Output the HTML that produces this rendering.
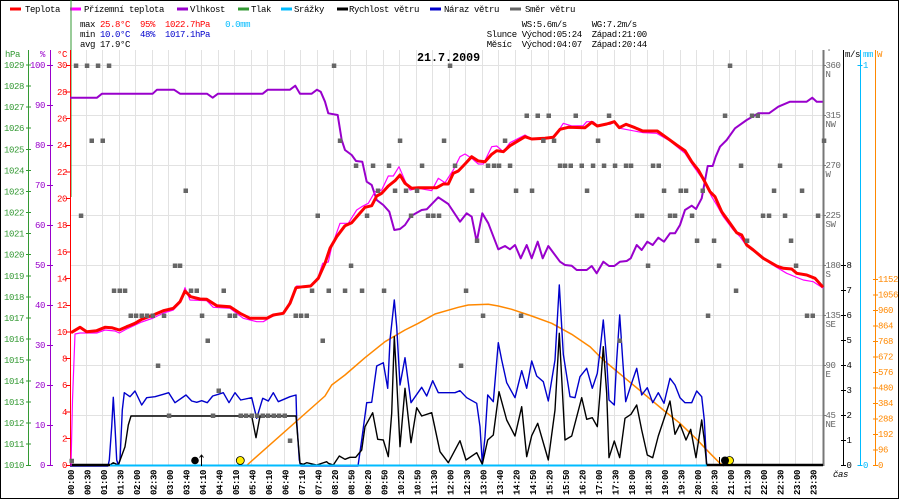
<!DOCTYPE html>
<html><head><meta charset="utf-8"><style>
html,body{margin:0;padding:0;background:#fff;}
svg{display:block;}
text{font-family:"Liberation Mono",monospace;font-size:9px;letter-spacing:-0.4px;}
.xl text{font-weight:bold;}
</style></head><body>
<svg width="900" height="500" viewBox="0 0 900 500" xmlns="http://www.w3.org/2000/svg">
<rect x="0" y="0" width="900" height="500" fill="#fff"/>
<rect x="0.5" y="0.5" width="898" height="498" fill="none" stroke="#000" stroke-width="1"/>

<!-- legend -->
<g stroke-width="3">
<line x1="10" y1="9" x2="21" y2="9" stroke="#ff0000"/>
<line x1="70" y1="9" x2="81" y2="9" stroke="#ff00ff"/>
<line x1="177" y1="9" x2="188" y2="9" stroke="#9900cc"/>
<line x1="238" y1="9" x2="249" y2="9" stroke="#339933"/>
<line x1="281" y1="9" x2="292" y2="9" stroke="#00bbff"/>
<line x1="337" y1="9" x2="348" y2="9" stroke="#000"/>
<line x1="430" y1="9" x2="441" y2="9" stroke="#0000cc"/>
<line x1="510" y1="9" x2="521" y2="9" stroke="#666"/>
</g>
<g fill="#000">
<text x="25" y="12">Teplota</text>
<text x="84" y="12">Přízemní teplota</text>
<text x="190" y="12">Vlhkost</text>
<text x="251" y="12">Tlak</text>
<text x="294" y="12">Srážky</text>
<text x="349" y="12">Rychlost větru</text>
<text x="444" y="12">Náraz větru</text>
<text x="525" y="12">Směr větru</text>
</g>

<!-- stats -->
<text x="80" y="27" xml:space="preserve">max <tspan fill="#ff0000">25.8°C  95%  1022.7hPa</tspan>   <tspan fill="#00bbff">0.0mm</tspan></text>
<text x="80" y="37" xml:space="preserve">min <tspan fill="#0000cc">10.0°C  48%  1017.1hPa</tspan></text>
<text x="80" y="47" xml:space="preserve">avg 17.9°C</text>
<text x="486.7" y="27" xml:space="preserve">       WS:5.6m/s     WG:7.2m/s</text>
<text x="486.7" y="37" xml:space="preserve">Slunce Východ:05:24  Západ:21:00</text>
<text x="486.7" y="47" xml:space="preserve">Měsíc  Východ:04:07  Západ:20:44</text>

<!-- grid -->
<g stroke="#e2e2e2" stroke-width="1">
<path d="M86.5 50V466M102.5 50V466M119.5 50V466M135.5 50V466M152.5 50V466M168.5 50V466M185.5 50V466M201.5 50V466M218.5 50V466M234.5 50V466M251.5 50V466M267.5 50V466M284.5 50V466M300.5 50V466M317.5 50V466M333.5 50V466M350.5 50V466M366.5 50V466M383.5 50V466M399.5 50V466M416.5 50V466M432.5 50V466M449.5 50V466M465.5 50V466M482.5 50V466M498.5 50V466M515.5 50V466M531.5 50V466M548.5 50V466M564.5 50V466M581.5 50V466M597.5 50V466M614.5 50V466M630.5 50V466M647.5 50V466M663.5 50V466M680.5 50V466M696.5 50V466M713.5 50V466M729.5 50V466M746.5 50V466M762.5 50V466M779.5 50V466M795.5 50V466M812.5 50V466"/>
<path d="M71 65.5H823M71 115.5H823M71 165.5H823M71 215.5H823M71 265.5H823M71 315.5H823M71 365.5H823M71 415.5H823"/>
</g>

<!-- title -->
<text x="417" y="61" style="font-size:11.7px;font-weight:bold;letter-spacing:0">21.7.2009</text>

<!-- left axes -->
<text x="5" y="57" fill="#339933">hPa</text>
<text x="40" y="57" fill="#9900cc">%</text>
<text x="57" y="57" fill="#ff0000">°C</text>
<line x1="28.5" y1="50" x2="28.5" y2="466" stroke="#339933"/>
<line x1="50.5" y1="50" x2="50.5" y2="466" stroke="#9900cc"/>
<line x1="71" y1="0" x2="71" y2="197" stroke="#339933"/>
<line x1="70.5" y1="50" x2="70.5" y2="466" stroke="#ff0000"/>
<g stroke="#339933"><path d="M26 465.5h5M26 444h5M26 423h5M26 402h5M26 381h5M26 360h5M26 339h5M26 318h5M26 297h5M26 276h5M26 254.5h5M26 233.5h5M26 212.5h5M26 191.5h5M26 170.5h5M26 149.5h5M26 128h5M26 107h5M26 86h5M26 65h5"/></g>
<g fill="#339933" text-anchor="end">
<text x="24" y="468">1010</text><text x="24" y="447">1011</text><text x="24" y="426">1012</text><text x="24" y="405">1013</text><text x="24" y="384">1014</text><text x="24" y="363">1015</text><text x="24" y="342">1016</text><text x="24" y="321">1017</text><text x="24" y="300">1018</text><text x="24" y="279">1019</text><text x="24" y="257.5">1020</text><text x="24" y="236.5">1021</text><text x="24" y="215.5">1022</text><text x="24" y="194.5">1023</text><text x="24" y="173.5">1024</text><text x="24" y="152.5">1025</text><text x="24" y="131">1026</text><text x="24" y="110">1027</text><text x="24" y="89">1028</text><text x="24" y="68">1029</text>
</g>
<g stroke="#9900cc"><path d="M47 465.5h6M47 425.5h6M47 385.5h6M47 345.5h6M47 305.5h6M47 265.5h6M47 225.5h6M47 185.5h6M47 145.5h6M47 105.5h6M47 65.5h6"/></g>
<g fill="#9900cc" text-anchor="end">
<text x="45" y="468">0</text><text x="45" y="428">10</text><text x="45" y="388">20</text><text x="45" y="348">30</text><text x="45" y="308">40</text><text x="45" y="268">50</text><text x="45" y="228">60</text><text x="45" y="188">70</text><text x="45" y="148">80</text><text x="45" y="108">90</text><text x="45" y="68">100</text>
</g>
<g stroke="#ff0000"><path d="M66 465.5h4M66 438.5h4M66 412h4M66 385.5h4M66 358.5h4M66 332h4M66 305.5h4M66 278.5h4M66 252h4M66 225.5h4M66 198.5h4M66 172h4M66 145.5h4M66 118.5h4M66 92h4M66 65.5h4"/></g>
<g fill="#ff0000" text-anchor="end">
<text x="67" y="468">0</text><text x="67" y="441.5">2</text><text x="67" y="415">4</text><text x="67" y="388">6</text><text x="67" y="361.5">8</text><text x="67" y="335">10</text><text x="67" y="308">12</text><text x="67" y="281.5">14</text><text x="67" y="255">16</text><text x="67" y="228">18</text><text x="67" y="201.5">20</text><text x="67" y="175">22</text><text x="67" y="148">24</text><text x="67" y="121.5">26</text><text x="67" y="95">28</text><text x="67" y="68">30</text>
</g>

<!-- right axes -->
<line x1="823.5" y1="50" x2="823.5" y2="466" stroke="#777" stroke-width="2"/>
<line x1="843.5" y1="50" x2="843.5" y2="466" stroke="#000"/>
<line x1="860.5" y1="50" x2="860.5" y2="466" stroke="#00bbff"/>
<line x1="875.5" y1="50" x2="875.5" y2="466" stroke="#ff8800"/>
<text x="827" y="54" fill="#666" style="font-size:7px">°</text>
<text x="845" y="57">m/s</text>
<text x="863" y="57" fill="#00bbff">mm</text>
<text x="877" y="57" fill="#ff8800">W</text>
<g stroke="#777"><path d="M823 65.5h3M823 115.5h3M823 165.5h3M823 215.5h3M823 265.5h3M823 315.5h3M823 365.5h3M823 415.5h3"/></g>
<g fill="#666">
<text x="825.5" y="68">360</text><text x="825.5" y="77">N</text>
<text x="825.5" y="118">315</text><text x="825.5" y="127">NW</text>
<text x="825.5" y="168">270</text><text x="825.5" y="177">W</text>
<text x="825.5" y="218">225</text><text x="825.5" y="227">SW</text>
<text x="825.5" y="268">180</text><text x="825.5" y="277">S</text>
<text x="825.5" y="318">135</text><text x="825.5" y="327">SE</text>
<text x="825.5" y="368">90</text><text x="825.5" y="377">E</text>
<text x="825.5" y="418">45</text><text x="825.5" y="427">NE</text>
</g>
<g stroke="#000"><path d="M841 465.5h5M841 440.5h5M841 415.5h5M841 390.5h5M841 365.5h5M841 340.5h5M841 315.5h5M841 290.5h5M841 265.5h5"/></g>
<g fill="#000">
<text x="846.5" y="468">0</text><text x="846.5" y="443">1</text><text x="846.5" y="418">2</text><text x="846.5" y="393">3</text><text x="846.5" y="368">4</text><text x="846.5" y="343">5</text><text x="846.5" y="318">6</text><text x="846.5" y="293">7</text><text x="846.5" y="268">8</text>
</g>
<g stroke="#00bbff"><path d="M857.5 465.5h5M857.5 65.5h5"/></g>
<g fill="#00bbff"><text x="863" y="468">0</text><text x="863" y="68">1</text></g>
<g stroke="#ff8800"><path d="M873 465.5h5M873 450h5M873 434.5h5M873 419h5M873 403.5h5M873 388h5M873 372.5h5M873 357h5M873 341.5h5M873 326h5M873 310.5h5M873 295h5M873 279.5h5"/></g>
<g fill="#ff8800">
<text x="878" y="468">0</text><text x="878" y="452.5">96</text><text x="878" y="437">192</text><text x="878" y="421.5">288</text><text x="878" y="406">384</text><text x="878" y="390.5">480</text><text x="878" y="375">576</text><text x="878" y="359.5">672</text><text x="878" y="344">768</text><text x="878" y="328.5">864</text><text x="878" y="313">960</text><text x="878" y="297.5">1056</text><text x="878" y="282">1152</text>
</g>
<text x="833" y="477" style="font-style:italic">čas</text>

<!-- x labels -->
<g class="xl" fill="#000">
<text transform="translate(74.1,495) rotate(-90)">00:00</text>
<text transform="translate(90.6,495) rotate(-90)">00:30</text>
<text transform="translate(107.1,495) rotate(-90)">01:00</text>
<text transform="translate(123.6,495) rotate(-90)">01:30</text>
<text transform="translate(140.1,495) rotate(-90)">02:00</text>
<text transform="translate(156.6,495) rotate(-90)">02:30</text>
<text transform="translate(173.1,495) rotate(-90)">03:00</text>
<text transform="translate(189.6,495) rotate(-90)">03:40</text>
<text transform="translate(206.1,495) rotate(-90)">04:10</text>
<text transform="translate(222.6,495) rotate(-90)">04:40</text>
<text transform="translate(239.1,495) rotate(-90)">05:10</text>
<text transform="translate(255.6,495) rotate(-90)">05:40</text>
<text transform="translate(272.1,495) rotate(-90)">06:10</text>
<text transform="translate(288.6,495) rotate(-90)">06:40</text>
<text transform="translate(305.1,495) rotate(-90)">07:10</text>
<text transform="translate(321.6,495) rotate(-90)">07:40</text>
<text transform="translate(338.1,495) rotate(-90)">08:20</text>
<text transform="translate(354.6,495) rotate(-90)">08:50</text>
<text transform="translate(371.1,495) rotate(-90)">09:20</text>
<text transform="translate(387.6,495) rotate(-90)">09:50</text>
<text transform="translate(404.1,495) rotate(-90)">10:20</text>
<text transform="translate(420.6,495) rotate(-90)">10:50</text>
<text transform="translate(437.1,495) rotate(-90)">11:30</text>
<text transform="translate(453.6,495) rotate(-90)">12:00</text>
<text transform="translate(470.1,495) rotate(-90)">12:30</text>
<text transform="translate(486.6,495) rotate(-90)">13:00</text>
<text transform="translate(503.1,495) rotate(-90)">13:40</text>
<text transform="translate(519.6,495) rotate(-90)">14:20</text>
<text transform="translate(536.1,495) rotate(-90)">14:50</text>
<text transform="translate(552.6,495) rotate(-90)">15:20</text>
<text transform="translate(569.1,495) rotate(-90)">15:50</text>
<text transform="translate(585.6,495) rotate(-90)">16:20</text>
<text transform="translate(602.1,495) rotate(-90)">17:00</text>
<text transform="translate(618.6,495) rotate(-90)">17:30</text>
<text transform="translate(635.1,495) rotate(-90)">18:00</text>
<text transform="translate(651.6,495) rotate(-90)">18:30</text>
<text transform="translate(668.1,495) rotate(-90)">19:00</text>
<text transform="translate(684.6,495) rotate(-90)">19:30</text>
<text transform="translate(701.1,495) rotate(-90)">20:00</text>
<text transform="translate(717.6,495) rotate(-90)">20:30</text>
<text transform="translate(734.1,495) rotate(-90)">21:00</text>
<text transform="translate(750.6,495) rotate(-90)">21:30</text>
<text transform="translate(767.1,495) rotate(-90)">22:00</text>
<text transform="translate(783.6,495) rotate(-90)">22:30</text>
<text transform="translate(800.1,495) rotate(-90)">23:00</text>
<text transform="translate(816.6,495) rotate(-90)">23:30</text>
</g>

<!-- series -->
<g fill="none" stroke-linejoin="round">
<polyline stroke="#ff8800" stroke-width="1.5" points="246,466 325,396 331.7,385 345,375 365,357.7 385,341.7 405,330 418.3,323.3 435,314 458.3,307.3 468.3,305 488.3,304.3 498.3,306 511.7,309.3 531.7,316 551.7,323.3 571.7,334.3 590,346.7 603.3,360 623.3,376.7 643.3,393.3 663.3,410 680,423.3 696.7,439.3 710,453.3 720,463.3 724,466"/>
<polyline stroke="#9900cc" stroke-width="2" points="70,97.7 97,97.7 102,93.7 152.7,93.7 157,89.7 174,89.7 180,93.7 207,93.7 212.7,97.7 218,93.7 262.7,93.7 267.7,89.7 290,89.7 295.3,85.7 300,93.7 311.7,93.7 317,89.7 320.7,91.7 325,101.7 328.3,113.3 337.7,115 341.7,140 345,150 351.7,155 356,161 362.3,161.7 366.7,181.7 371.7,185 376.7,200 383.3,205 389.3,211.7 394.3,230 400,229 405,225 411,216 421.7,210 426.7,209.3 438.3,197.3 448.3,204 460,221.7 466.7,213.3 471.7,216.7 476.7,241.7 482.3,213.3 488.3,223.3 498.3,249.3 505,246 510,249.3 515,245 520.7,258.3 526.7,245 531.7,258.3 537.7,241.7 542.7,258.3 548.3,246 560,261.7 565,265 571.7,265.7 576.7,270 586.7,270 591.7,266 596.7,273.3 603.3,261.7 609,266 614.3,266 620,261.7 626.7,261 630.7,258.3 636.7,245 641.7,250 647.3,241.7 652.7,245 658.3,237.7 664,241.7 670,233.3 675,233.3 680,225 685,210 691.7,205.7 696,209 701.7,198.3 707.7,166 712.7,166 715.7,156.7 720,146.7 726.7,140 735,128.3 746.7,120 758.3,113.3 769,113.3 778.3,106.7 790,101.7 806.7,101.7 812.3,97.7 816.7,101.7 822.7,101.7"/>
<polyline stroke="#0000cc" stroke-width="1.4" points="70,466 108,466 109.3,460 111.7,426.7 113.3,397.3 115,426.7 116.7,460 118.3,465 120,460 122.3,410 124.3,392.7 130,396.7 135,391 141.7,405 146.7,397.7 155,396.7 163.3,394.3 168.7,392.7 175,402.7 186,395 191.7,401 196.7,402.3 201.7,400.7 207.3,402.7 212.7,396 218.3,394.3 223.3,392.7 229,402.7 235,392.7 240.7,400 251.7,397.7 256.7,418.3 262.7,398.3 268.3,401 273.3,392.7 278.3,401.7 290,396.7 296,395 296.7,420 299.3,460 300.7,466 358,466 361.7,440 366.7,402.7 371.7,402.3 376.7,366 383.3,362.7 387.7,388.3 390,340 394.3,300 396.7,326.7 400,385 405,357.7 411,402.7 421.7,387.3 426.7,396 432.7,380.7 438.3,392.7 455,392.7 460,390.7 466.7,397.7 476.7,403.3 480,426.7 482.3,463.3 485,436.7 487.7,395 493.3,401.7 498.3,342.7 501.7,360 506.7,382.7 515,397.7 521.7,370.7 526.7,388.3 531.7,361 536.7,376 543.3,381.7 548.3,401 555,360 559.3,285 563.3,354.3 570,396.7 575,397.7 580,376.7 586.7,368.3 592.3,388.3 597.3,373.3 600,351 603.3,320 606.7,360 609,400 614.3,405 616.7,360 619.7,315 622.7,360 625.7,401.7 631,385 636.7,368.3 641.7,395 647.3,387.7 652.7,402.7 658.3,392.7 664,403.3 670,378.3 675,385 680,397.7 685,402.7 691.7,402.7 696.7,391 701.7,396.7 704.3,420 706.7,466"/>
<polyline stroke="#000" stroke-width="1.4" points="70,465 110,465 113.3,462.7 118.3,465 125,446.7 128.3,425 131,416 251.7,416 256,437.7 260,416 296,416 297.7,436.7 300,463.3 303.3,464.3 306.7,462.7 316.7,465 326.7,461.7 328.3,463.3 333.3,465 339.3,456 345,459.3 350,457.3 355.7,457.3 361.7,450 365,426.7 372.7,412.7 377.7,439.3 383.3,440 388.3,456.7 391.7,413.3 394.3,336.7 396.7,380 400,446.7 405,388.3 411,442.7 416.7,407.7 421.7,416 431.7,412.7 440,451.7 448.3,462.7 460,440.7 466,460 476.7,452.7 482.3,464.3 487.7,440 493.3,435 499,391.7 506.7,420 515,436 521.7,406.7 526.7,456.7 531.7,435.7 537.7,423.3 548.3,460 555,410 559.3,333.3 565,440 571.7,436 581.7,397.7 586.7,419.3 592.3,417.7 597.3,426.7 600,393.3 603.3,346.7 606.7,393.3 609,457.7 614.3,441 619.7,457.7 625,418.3 631,414.3 636.7,405 641.7,430 647.3,455 652.7,457.7 658.3,436 670,401 675,434.3 680,424.3 686,440 690.7,429.3 696,457.7 701.7,420 704.3,440 706.7,465"/>
<line x1="70" y1="465" x2="110" y2="465" stroke="#000" stroke-width="2.5"/>
<line x1="706" y1="465" x2="823" y2="465" stroke="#000" stroke-width="2.5"/>
<line x1="110" y1="465.5" x2="706.7" y2="465.5" stroke="#00bbff" stroke-width="2"/>
<polyline stroke="#ff00ff" stroke-width="1.2" points="71,466 72.5,400 75,334 80,333 96.7,333 105,330 115,331 119.3,333 126.7,329 141.7,322 153.3,318 163.3,313 173.3,310 180,303 185,287.7 190,300 206.7,300.7 213.3,307.3 230,308.3 243.3,318.3 256.7,321.7 263.3,321.7 271.7,316.7 285,311.7 291.7,297.7 296.7,286 310,286.7 318.3,276.7 322.7,263.3 328.3,262 331.7,246.7 340,223.3 348.3,223.3 356.7,210 361.7,206.7 368.3,203.3 375,191.7 381.7,190 388.3,176 393.3,176 399,166.7 405,180.7 410,190 418.3,188.3 431.7,190.7 438.3,178.3 445,182.7 453.3,170 460,156.7 465,154 471.7,158.3 478.3,164 483.3,164 491.7,146.7 496.7,146 503.3,151.7 510,142.7 525,135 531.7,139 545,138.3 555,136 563.3,123.3 571.7,126 583.3,125.7 586.7,121.7 593.3,121.7 597.3,125.3 610,124.3 614.3,122.3 620,128.3 643.3,132.7 656.7,133.3 670,141 685,153.3 693.3,166 703.3,180 711.7,196.7 716.7,205 723.3,216.7 733.3,230 740,236.7 746.7,246 756.7,252.7 770,263.3 786.7,273.3 803.3,280 813.3,281.7 823.3,288.3"/>
<polyline stroke="#ff0000" stroke-width="3" points="71,332.7 80,327.3 86.7,331.7 96.7,330.7 105,327.3 111.7,327.7 119.3,330 126.7,326.7 135,323.3 141.7,319.3 153.3,315 163.3,310.7 173.3,308.3 180,301.7 185,291 190.7,296.7 200,299 206.7,299.3 216.7,305.7 230,306.7 240,313.3 250,318.3 266.7,318.3 273.3,315 283.3,313.3 290,303.3 296,287.7 303.3,286.7 310.7,286 318.3,278.3 325,263.3 330,248.3 336.7,236.7 345,225.7 351.7,222.7 358.3,215 365,207.3 371.7,205.7 376.7,196 381.7,193.3 388.3,186 395,180.7 400,175 405,183.3 411.7,188.3 418.3,187.7 436.7,187.7 443.3,184 448.3,184 453.3,173.3 458.3,171 465,164 471.7,156.7 478.3,161 485,161.7 491.7,154.3 496.7,150.7 503.3,151.7 510,145.7 516.7,141.7 525,136.7 531.7,139 545,138.3 553.3,137.3 560,129.3 568.3,127.3 585,127.7 591.7,122.3 597.3,126 606.7,124 614.3,121.7 619.3,127.7 626,124.3 635,127.7 642.7,131 657.3,131 666.7,137.7 676.7,145 685,150.7 691.7,161.7 698.3,170 703.3,179 710,191.7 715,196.7 721.7,211.7 730,223.3 736.7,232.7 741.7,235 746.7,245 753.3,250 763.3,258.3 776.7,266 783.3,268.3 791.7,269 796.7,273.3 806.7,275 815,278.3 823,287.3"/>
</g>

<!-- wind direction squares -->
<path fill="#666" d="
M73.8 63.5h4.5v4.5h-4.5zM84.8 63.5h4.5v4.5h-4.5zM95.8 63.5h4.5v4.5h-4.5zM106.8 63.5h4.5v4.5h-4.5zM331.8 63.5h4.5v4.5h-4.5zM447.8 63.5h4.5v4.5h-4.5zM727.8 63.5h4.5v4.5h-4.5z
M524.5 113.5h4.5v4.5h-4.5zM535.5 113.5h4.5v4.5h-4.5zM546.5 113.5h4.5v4.5h-4.5zM573.5 113.5h4.5v4.5h-4.5zM606.8 113.5h4.5v4.5h-4.5zM722.8 113.5h4.5v4.5h-4.5zM749.8 113.5h4.5v4.5h-4.5zM755.5 113.5h4.5v4.5h-4.5z
M89.5 138.5h4.5v4.5h-4.5zM100.5 138.5h4.5v4.5h-4.5zM337.8 138.5h4.5v4.5h-4.5zM397.8 138.5h4.5v4.5h-4.5zM441.8 138.5h4.5v4.5h-4.5zM502.8 138.5h4.5v4.5h-4.5zM541.1 138.5h4.5v4.5h-4.5zM551.8 138.5h4.5v4.5h-4.5zM595.8 138.5h4.5v4.5h-4.5zM821.8 138.5h4.5v4.5h-4.5z
M353.8 163.5h4.5v4.5h-4.5zM370.8 163.5h4.5v4.5h-4.5zM386.8 163.5h4.5v4.5h-4.5zM419.8 163.5h4.5v4.5h-4.5zM452.8 163.5h4.5v4.5h-4.5zM485.8 163.5h4.5v4.5h-4.5zM491.8 163.5h4.5v4.5h-4.5zM496.8 163.5h4.5v4.5h-4.5zM507.8 163.5h4.5v4.5h-4.5zM557.8 163.5h4.5v4.5h-4.5zM562.8 163.5h4.5v4.5h-4.5zM568.5 163.5h4.5v4.5h-4.5zM579.5 163.5h4.5v4.5h-4.5zM590.8 163.5h4.5v4.5h-4.5zM601.8 163.5h4.5v4.5h-4.5zM612.8 163.5h4.5v4.5h-4.5zM623.8 163.5h4.5v4.5h-4.5zM628.8 163.5h4.5v4.5h-4.5zM650.8 163.5h4.5v4.5h-4.5zM656.5 163.5h4.5v4.5h-4.5zM738.8 163.5h4.5v4.5h-4.5zM777.8 163.5h4.5v4.5h-4.5z
M183.5 188.5h4.5v4.5h-4.5zM375.8 188.5h4.5v4.5h-4.5zM392.8 188.5h4.5v4.5h-4.5zM403.8 188.5h4.5v4.5h-4.5zM414.8 188.5h4.5v4.5h-4.5zM469.8 188.5h4.5v4.5h-4.5zM513.8 188.5h4.5v4.5h-4.5zM529.8 188.5h4.5v4.5h-4.5zM584.8 188.5h4.5v4.5h-4.5zM661.8 188.5h4.5v4.5h-4.5zM678.5 188.5h4.5v4.5h-4.5zM683.8 188.5h4.5v4.5h-4.5zM700.5 188.5h4.5v4.5h-4.5zM771.8 188.5h4.5v4.5h-4.5zM799.8 188.5h4.5v4.5h-4.5z
M78.8 213.5h4.5v4.5h-4.5zM315.5 213.5h4.5v4.5h-4.5zM364.8 213.5h4.5v4.5h-4.5zM408.8 213.5h4.5v4.5h-4.5zM425.8 213.5h4.5v4.5h-4.5zM431.1 213.5h4.5v4.5h-4.5zM436.8 213.5h4.5v4.5h-4.5zM634.8 213.5h4.5v4.5h-4.5zM639.8 213.5h4.5v4.5h-4.5zM667.8 213.5h4.5v4.5h-4.5zM672.8 213.5h4.5v4.5h-4.5zM689.8 213.5h4.5v4.5h-4.5zM760.8 213.5h4.5v4.5h-4.5zM766.8 213.5h4.5v4.5h-4.5zM782.8 213.5h4.5v4.5h-4.5zM815.8 213.5h4.5v4.5h-4.5z
M474.8 238.5h4.5v4.5h-4.5zM694.8 238.5h4.5v4.5h-4.5zM711.8 238.5h4.5v4.5h-4.5zM744.8 238.5h4.5v4.5h-4.5zM788.8 238.5h4.5v4.5h-4.5z
M172.8 263.5h4.5v4.5h-4.5zM177.8 263.5h4.5v4.5h-4.5zM348.8 263.5h4.5v4.5h-4.5zM645.8 263.5h4.5v4.5h-4.5zM716.8 263.5h4.5v4.5h-4.5zM793.8 263.5h4.5v4.5h-4.5z
M111.8 288.5h4.5v4.5h-4.5zM117.5 288.5h4.5v4.5h-4.5zM122.8 288.5h4.5v4.5h-4.5zM188.8 288.5h4.5v4.5h-4.5zM194.5 288.5h4.5v4.5h-4.5zM221.5 288.5h4.5v4.5h-4.5zM309.8 288.5h4.5v4.5h-4.5zM326.5 288.5h4.5v4.5h-4.5zM342.8 288.5h4.5v4.5h-4.5zM359.8 288.5h4.5v4.5h-4.5zM381.8 288.5h4.5v4.5h-4.5zM463.8 288.5h4.5v4.5h-4.5zM733.8 288.5h4.5v4.5h-4.5z
M128.5 313.5h4.5v4.5h-4.5zM133.8 313.5h4.5v4.5h-4.5zM139.5 313.5h4.5v4.5h-4.5zM144.8 313.5h4.5v4.5h-4.5zM150.5 313.5h4.5v4.5h-4.5zM161.8 313.5h4.5v4.5h-4.5zM199.8 313.5h4.5v4.5h-4.5zM227.5 313.5h4.5v4.5h-4.5zM232.8 313.5h4.5v4.5h-4.5zM293.5 313.5h4.5v4.5h-4.5zM298.8 313.5h4.5v4.5h-4.5zM304.5 313.5h4.5v4.5h-4.5zM480.8 313.5h4.5v4.5h-4.5zM518.8 313.5h4.5v4.5h-4.5zM705.8 313.5h4.5v4.5h-4.5zM804.8 313.5h4.5v4.5h-4.5zM810.5 313.5h4.5v4.5h-4.5z
M205.5 338.5h4.5v4.5h-4.5zM320.5 338.5h4.5v4.5h-4.5zM617.5 338.5h4.5v4.5h-4.5z
M155.8 363.5h4.5v4.5h-4.5zM458.8 363.5h4.5v4.5h-4.5z
M216.5 388.5h4.5v4.5h-4.5z
M166.8 413.5h4.5v4.5h-4.5zM210.8 413.5h4.5v4.5h-4.5zM238.5 413.5h4.5v4.5h-4.5zM243.8 413.5h4.5v4.5h-4.5zM249.5 413.5h4.5v4.5h-4.5zM254.8 413.5h4.5v4.5h-4.5zM260.5 413.5h4.5v4.5h-4.5zM265.8 413.5h4.5v4.5h-4.5zM271.5 413.5h4.5v4.5h-4.5zM276.8 413.5h4.5v4.5h-4.5zM282.5 413.5h4.5v4.5h-4.5z
M287.8 438.5h4.5v4.5h-4.5zM69.5 458.8h4.5v4.5h-4.5z"/>

<!-- sun / moon -->
<circle cx="195" cy="460.5" r="3.8" fill="#000"/>
<path d="M201.5 466V455M199.5 457.5L201.5 455L203.5 457.5" stroke="#000" fill="none" stroke-width="1"/>
<circle cx="240.3" cy="460.5" r="4" fill="#ffee00" stroke="#000" stroke-width="0.8"/>
<path d="M719.5 457V466" stroke="#000" stroke-width="1"/>
<circle cx="729.5" cy="460.5" r="4" fill="#ffee00" stroke="#000" stroke-width="0.8"/>
<circle cx="725" cy="460.5" r="4" fill="#000"/>
</svg>
</body></html>
